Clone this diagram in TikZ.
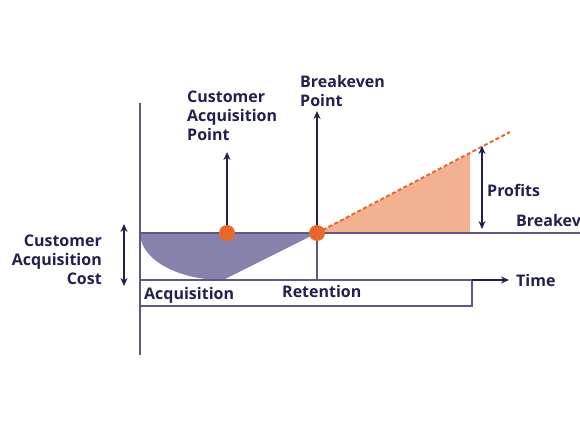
\documentclass[tikz,border=0pt]{standalone}
\usepackage{fontspec}
\setmainfont{Open Sans}
\usetikzlibrary{arrows.meta}
\definecolor{navy}{HTML}{22204F}
\definecolor{axis}{HTML}{5C5A82}
\definecolor{purp}{HTML}{8682AC}
\definecolor{dot}{HTML}{E8692A}
\definecolor{peach}{HTML}{F2B291}
\tikzset{
  lab/.style={font=\fontsize{16}{19}\selectfont\bfseries, text=navy, inner sep=0pt, align=left},
  axisline/.style={draw=axis, line width=1.4pt},
  arr/.style={draw=navy, line width=1.2pt, -{Stealth[length=8pt,width=7pt]}},
  darr/.style={draw=navy, line width=1.2pt, {Stealth[length=8pt,width=7pt]}-{Stealth[length=8pt,width=7pt]}},
  bigdot/.style={circle, fill=dot, minimum size=16pt, inner sep=0pt}
}
\begin{document}
\begin{tikzpicture}[x=1pt,y=-1pt]
\useasboundingbox (0,0) rectangle (580,435);
% coordinates
\coordinate (vtop) at (140,103);
\coordinate (vbot) at (140,355);
\coordinate (bl) at (140,233);
\coordinate (br) at (580,233);
\coordinate (tl) at (140,280);
\coordinate (tr) at (509,280);
\coordinate (boxbl) at (140,306);
\coordinate (boxbr) at (472,306);
\coordinate (boxtr) at (472,280);
\coordinate (low) at (223,280);
\coordinate (dashend) at (510,132);
\coordinate (ptop) at (470,153.5);
\coordinate (pbase) at (470,233);
% fills
\fill[purp] (bl) .. controls (140,259) and (177,280) .. (low) -- (317,233) -- cycle;
\fill[peach] (317,233) -- (ptop) -- (pbase) -- cycle;
% axes
\draw[axisline] (vtop) -- (vbot);
\draw[axisline] (bl) -- (br);
\draw[axisline] (boxbl) -- (boxbr) -- (boxtr);
\draw[axisline] (tl) -- (472,280);
\draw[arr] (472,280) -- (tr);
\draw[axisline] (317,233) -- (317,280);
\draw[dot, line width=2pt, dash pattern=on 4pt off 2.5pt] (317,233) -- (dashend);
% dots
\node[bigdot] (cap) at (227,233) {};
\node[bigdot] (bep) at (317,233) {};
% labels
\node[lab, anchor=base west] (capl) at (187,141) {Customer\\Acquisition\\Point};
\node[lab, anchor=base west] (bepl) at (300,107) {Breakeven\\Point};
\node[lab, anchor=base east, align=right] (cacl) at (102,284) {Customer\\Acquisition\\Cost};
\node[lab, anchor=base west] (prof) at (487,197) {Profits};
\node[lab, anchor=base west] (brk) at (516,227) {Breakeven};
\node[lab, anchor=base west] (time) at (516,287) {Time};
\node[lab, anchor=base west] (acq) at (144,299) {Acquisition};
\node[lab, anchor=base west] (ret) at (282,298) {Retention};
% arrows
\coordinate (caparr) at (227,152);
\coordinate (beparr) at (317,111);
\draw[arr] (cap.north) -- (caparr);
\draw[arr] (bep.north) -- (beparr);
\coordinate (c1) at (124,224);
\coordinate (c2) at (124,286);
\draw[darr] (c1) -- (c2);
\coordinate (p1) at (482,146);
\coordinate (p2) at (482,229);
\draw[darr] (p1) -- (p2);
\end{tikzpicture}
\end{document}
